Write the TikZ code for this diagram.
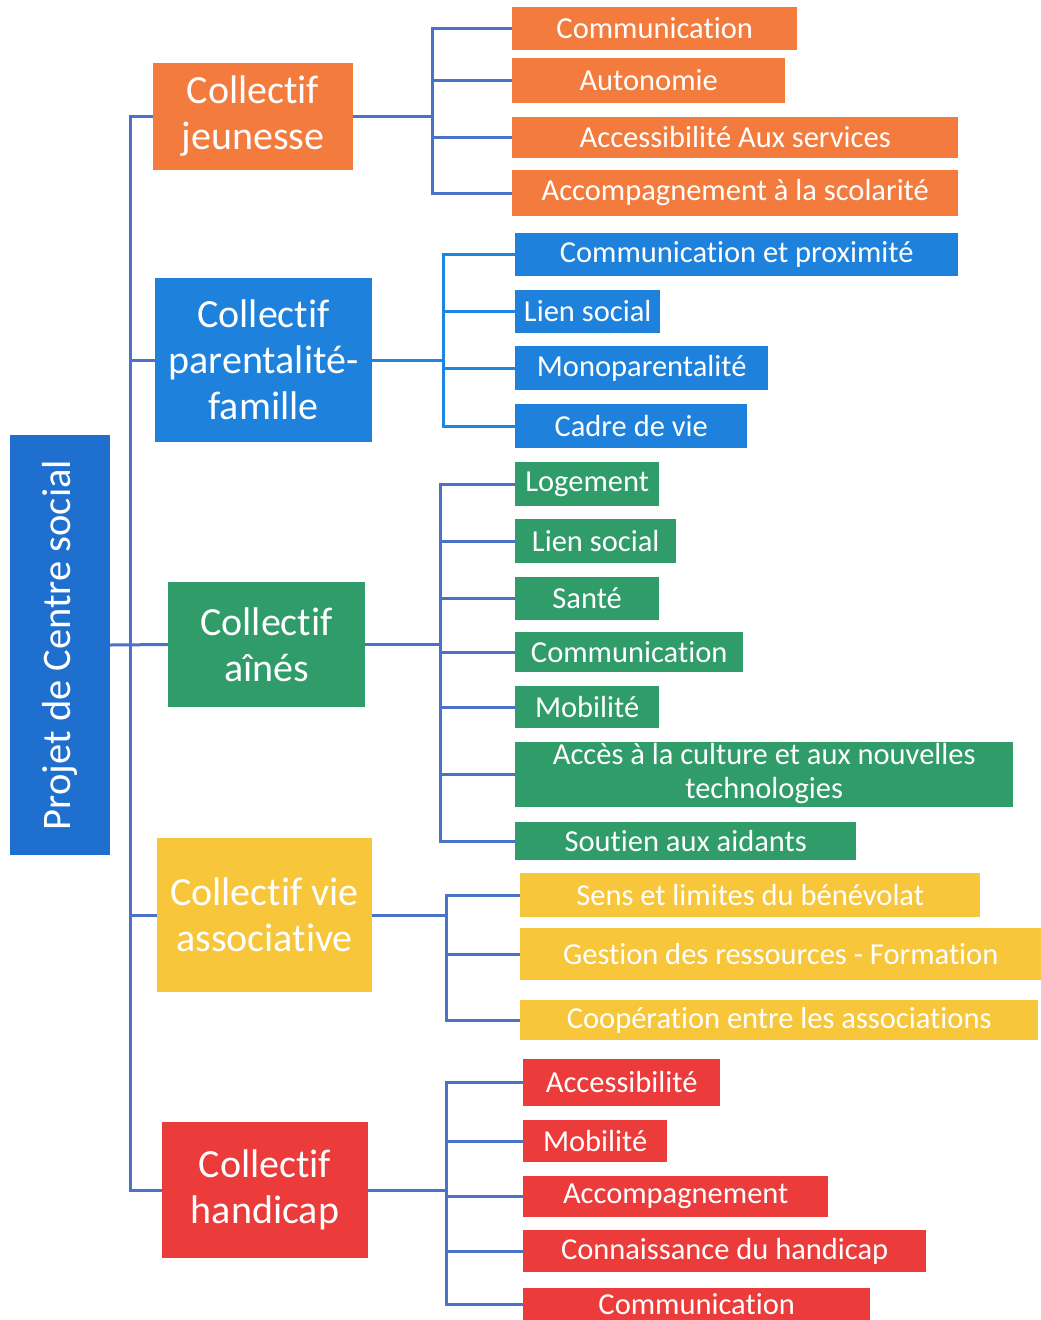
\documentclass[tikz,border=0pt]{standalone}
\usepackage{fontspec}
\setmainfont{Carlito}[Ligatures=NoCommon]
\usepackage{tikz}
\usetikzlibrary{positioning, calc}
\definecolor{croot}{HTML}{1F6FCF}
\definecolor{cjeune}{HTML}{F47B3E}
\definecolor{cparent}{HTML}{1E82DC}
\definecolor{caines}{HTML}{2F9C69}
\definecolor{cvie}{HTML}{F8C63A}
\definecolor{chandi}{HTML}{EC3B3B}
\definecolor{clink}{HTML}{4A72C6}
\definecolor{clinkb}{HTML}{1E86DE}
\tikzset{% styles of the boxes and links
	rootbox/.style={fill=croot, text=white, inner sep=0pt, minimum width=100pt, minimum height=420pt, font=\fontsize{40.5}{46}\selectfont},
	catbox/.style={text=white, inner sep=0pt, align=center, font=\fontsize{40}{46}\selectfont},
	leafbox/.style={text=white, inner sep=0pt, anchor=west, align=center, font=\fontsize{30.5}{34}\selectfont},
	link/.style={draw=clink, line width=3pt},
	linkb/.style={draw=clinkb, line width=3pt},
}
\begin{document}
\begin{tikzpicture}[x=1pt, y=-1pt]
	\useasboundingbox (0,0) rectangle (1041,1320);

	% root and the five collectifs
	\node[rootbox] (root) at (60,645) {\rotatebox{90}{Projet de Centre social}};
	\node[catbox, fill=cjeune, minimum width=200pt, minimum height=107pt] (cj) at (253,116.5) {Collectif\\jeunesse};
	\node[catbox, fill=cparent, minimum width=217pt, minimum height=164pt] (cp) at (263.5,360) {Collectif\\parentalité-\\famille};
	\node[catbox, fill=caines, minimum width=197pt, minimum height=125pt] (ca) at (266.5,644.5) {Collectif\\aînés};
	\node[catbox, fill=cvie, minimum width=215pt, minimum height=154pt] (cv) at (264.5,915) {Collectif vie\\associative};
	\node[catbox, fill=chandi, minimum width=206pt, minimum height=136pt] (ch) at (265,1190) {Collectif\\handicap};

	% jeunesse
	\node[leafbox, fill=cjeune, minimum width=285pt, minimum height=43pt] (j1) at (512,28) {Communication};
	\node[leafbox, fill=cjeune, minimum width=273pt, minimum height=45pt] (j2) at (512,80) {Autonomie};
	\node[leafbox, fill=cjeune, minimum width=446pt, minimum height=41pt] (j3) at (512,137) {Accessibilité Aux services};
	\node[leafbox, fill=cjeune, minimum width=446pt, minimum height=46pt] (j4) at (512,193) {Accompagnement à la scolarité};

	% parentalite-famille
	\node[leafbox, fill=cparent, minimum width=443pt, minimum height=43pt] (p1) at (515,254) {Communication et proximité};
	\node[leafbox, fill=cparent, minimum width=145pt, minimum height=43pt] (p2) at (515,311) {Lien social};
	\node[leafbox, fill=cparent, minimum width=253pt, minimum height=44pt] (p3) at (515,368) {Monoparentalité};
	\node[leafbox, fill=cparent, minimum width=232pt, minimum height=44pt] (p4) at (515,426) {Cadre de vie};

	% aines
	\node[leafbox, fill=caines, minimum width=144pt, minimum height=44pt] (a1) at (515,484) {Logement};
	\node[leafbox, fill=caines, minimum width=161pt, minimum height=44pt] (a2) at (515,541) {Lien social};
	\node[leafbox, fill=caines, minimum width=144pt, minimum height=43pt] (a3) at (515,598) {Santé};
	\node[leafbox, fill=caines, minimum width=228pt, minimum height=40pt] (a4) at (515,652) {Communication};
	\node[leafbox, fill=caines, minimum width=144pt, minimum height=42pt] (a5) at (515,707) {Mobilité};
	\node[leafbox, fill=caines, minimum width=498pt, minimum height=65pt] (a6) at (515,774) {Accès à la culture et aux nouvelles\\technologies};
	\node[leafbox, fill=caines, minimum width=341pt, minimum height=38pt] (a7) at (515,841) {Soutien aux aidants};

	% vie associative
	\node[leafbox, fill=cvie, minimum width=460pt, minimum height=44pt] (v1) at (520,895) {Sens et limites du bénévolat};
	\node[leafbox, fill=cvie, minimum width=521pt, minimum height=52pt] (v2) at (520,954) {Gestion des ressources - Formation};
	\node[leafbox, fill=cvie, minimum width=518pt, minimum height=40pt] (v3) at (520,1020) {Coopération entre les associations};

	% handicap
	\node[leafbox, fill=chandi, minimum width=197pt, minimum height=47pt] (h1) at (523,1082) {Accessibilité};
	\node[leafbox, fill=chandi, minimum width=144pt, minimum height=42pt] (h2) at (523,1141) {Mobilité};
	\node[leafbox, fill=chandi, minimum width=305pt, minimum height=41pt] (h3) at (523,1196) {Accompagnement};
	\node[leafbox, fill=chandi, minimum width=403pt, minimum height=42pt] (h4) at (523,1251) {Connaissance du handicap};
	\node[leafbox, fill=chandi, minimum width=347pt, minimum height=32pt] (h5) at (523,1304) {Communication};

	% trunk
	\coordinate (tr) at (130,645);
	\draw[link] (root.east) -- (ca.west);
	\draw[link] (cj.west) -| (tr) |- (ch.west);
	\draw[link] (cp.west) -- (cp.west -| tr);
	\draw[link] (cv.west) -- (cv.west -| tr);

	% brackets
	\coordinate (bj) at (432,116.5);
	\coordinate (bp) at (443,360);
	\coordinate (ba) at (440,644.5);
	\coordinate (bv) at (446,915);
	\coordinate (bh) at (446,1190);
	\draw[link] (cj.east) -- (bj);
	\draw[linkb] (cp.east) -- (bp);
	\draw[link] (ca.east) -- (ba);
	\draw[link] (cv.east) -- (bv);
	\draw[link] (ch.east) -- (bh);
	\foreach \n in {j1,j2,j3,j4} \draw[link] (bj) |- (\n.west);
	\foreach \n in {p1,p2,p3,p4} \draw[linkb] (bp) |- (\n.west);
	\foreach \n in {a1,a2,a3,a4,a5,a6,a7} \draw[link] (ba) |- (\n.west);
	\foreach \n in {v1,v2,v3} \draw[link] (bv) |- (\n.west);
	\foreach \n in {h1,h2,h3,h4,h5} \draw[link] (bh) |- (\n.west);
\end{tikzpicture}
\end{document}
